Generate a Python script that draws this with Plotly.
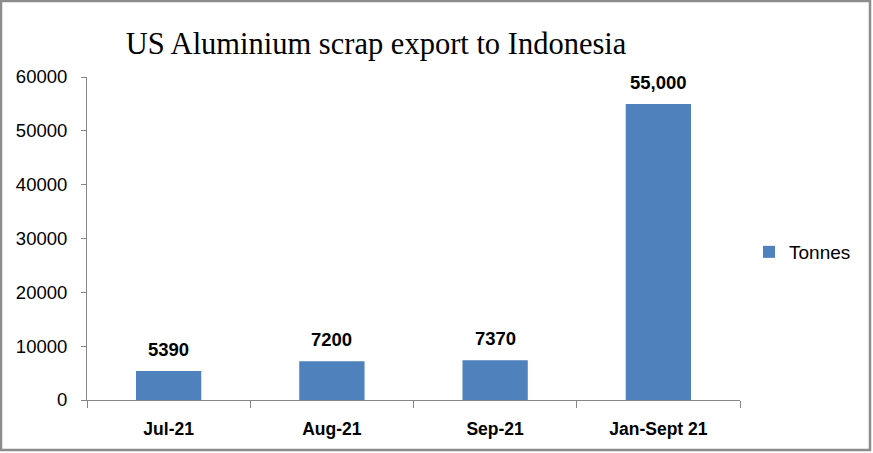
import plotly.graph_objects as go

categories = ["Jul-21", "Aug-21", "Sep-21", "Jan-Sept 21"]
tonnes = [5390, 7200, 7370, 55000]
value_labels = ["5390", "7200", "7370", "55,000"]
series_name = "Tonnes"
y_ticks = [0, 10000, 20000, 30000, 40000, 50000, 60000]

W, H = 873, 453
L, R, T, B = 87, 133, 77, 53

fig = go.Figure()
fig.add_trace(go.Bar(
    x=categories, y=tonnes, name=series_name,
    marker=dict(color="#4F81BD", line=dict(width=0)),
    width=0.4, showlegend=True,
))

for c, v, lab in zip(categories, tonnes, value_labels):
    fig.add_annotation(x=c, y=v, text="<b>%s</b>" % lab, showarrow=False,
                       yanchor="bottom", yshift=9,
                       font=dict(family="Liberation Sans, Arial", size=18.5, color="#000"))

pw = W - L - R
ph = H - T - B
fig.add_shape(type="rect", xref="paper", yref="paper",
              x0=(1 - L) / pw, x1=(W - 3 - L) / pw,
              y0=-(H - 3 - (H - B)) / ph, y1=(H - B - 1) / ph,
              line=dict(color="#8C8C8C", width=2.5), fillcolor="rgba(0,0,0,0)", layer="below")

fig.update_layout(
    width=W, height=H,
    margin=dict(l=L, r=R, t=T, b=B, pad=0),
    paper_bgcolor="white", plot_bgcolor="white",
    title=dict(text="US Aluminium scrap export to Indonesia", x=376 / W, xanchor="center",
               y=1 - 43 / H, yanchor="middle",
               font=dict(family="Liberation Serif, Times New Roman", size=30.5, color="#000")),
    xaxis=dict(showline=True, linecolor="#868686", linewidth=1, ticks="outside",
               tickson="boundaries", ticklen=7, tickcolor="#868686",
               ticklabelstandoff=13,
               tickfont=dict(family="Liberation Sans, Arial", size=17.5, color="#000", weight="bold"),
               showgrid=False, range=[-0.5, 3.5]),
    yaxis=dict(range=[0, 60000], tickvals=y_ticks, ticktext=[str(t) for t in y_ticks],
               showline=True, linecolor="#868686", linewidth=1, ticks="outside",
               ticklen=5, tickcolor="#868686", showgrid=False, zeroline=False,
               ticklabelstandoff=10,
               tickfont=dict(family="Liberation Sans, Arial", size=18.5, color="#000")),
    legend=dict(x=(749 - L) / pw, xanchor="left", y=(H - B - 252) / ph, yanchor="middle",
                font=dict(family="Liberation Sans, Arial", size=19, color="#000"),
                bgcolor="rgba(0,0,0,0)"),
    bargap=0.6,
)

fig.write_html("out.html")
